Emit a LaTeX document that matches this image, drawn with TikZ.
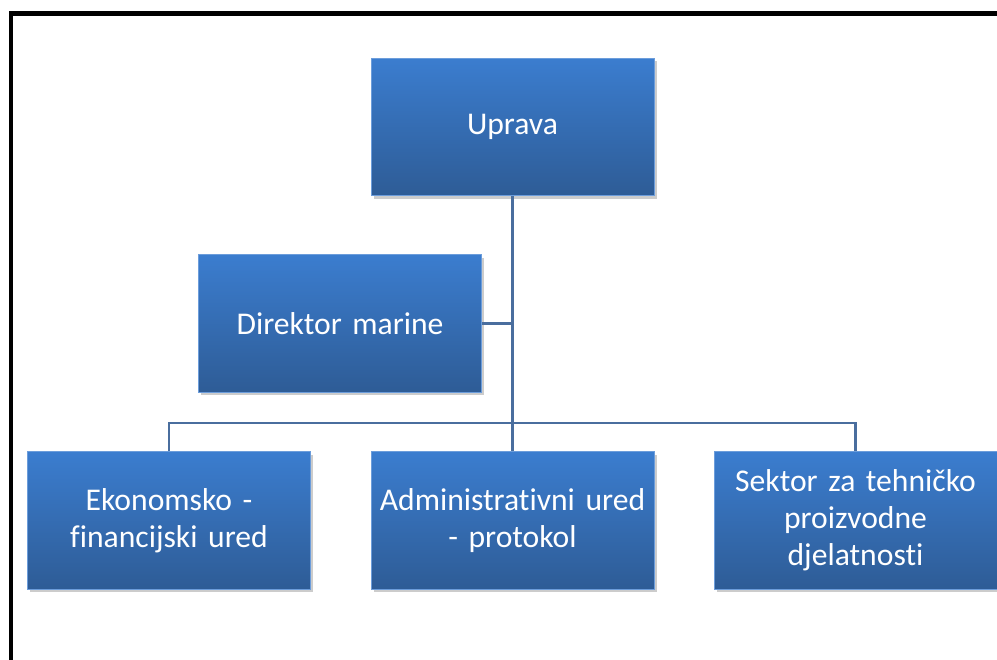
\documentclass[tikz,border=0pt]{standalone}
\usepackage{fontspec}
\setmainfont{Carlito}[Ligatures=NoCommon]
\usepackage{xcolor}
\usetikzlibrary{shadows}
\definecolor{boxtop}{HTML}{3B7DCF}
\definecolor{boxbot}{HTML}{2E5C96}
\definecolor{linkblue}{HTML}{4A6E9E}

\tikzset{
  unit/.style={draw=boxtop!75!white, line width=0.4pt,
    top color=boxtop, bottom color=boxbot,
    minimum width=5.66cm, minimum height=2.75cm,
    text width=5.5cm, align=center, inner sep=0pt,
    text=white, font=\fontsize{18}{21}\selectfont,
    drop shadow={shadow xshift=0.05cm, shadow yshift=-0.06cm, opacity=0.4}},
  link/.style={draw=linkblue, line width=1.2pt}
}

\begin{document}
\begin{tikzpicture}
\useasboundingbox (0,0) rectangle (19.94,13.2);
\clip (0,0) rectangle (19.94,13.2);
\fill[white] (0,0) rectangle (19.94,13.2);
% frame
\draw[line width=2.6pt] (0.22,-1) |- (21,12.93);
% units
\node[unit] (uprava) at (10.25,10.66) {Uprava};
\node[unit] (direktor) at (6.80,6.73) {Direktor marine};
\node[unit] (ekon) at (3.38,2.79) {Ekonomsko -\\financijski ured};
\node[unit] (admin) at (10.25,2.79) {Administrativni ured\\- protokol};
\node[unit] (sektor) at (17.11,2.79) {Sektor za tehničko\\proizvodne\\djelatnosti};
% links
\coordinate (bus) at (10.25,4.74);
\draw[link] (uprava.south) -- (admin.north);
\draw[link] (direktor.east) -- (direktor.east -| uprava.south);
\draw[link] (ekon.north) |- (bus) -| (sektor.north);
\end{tikzpicture}
\end{document}
